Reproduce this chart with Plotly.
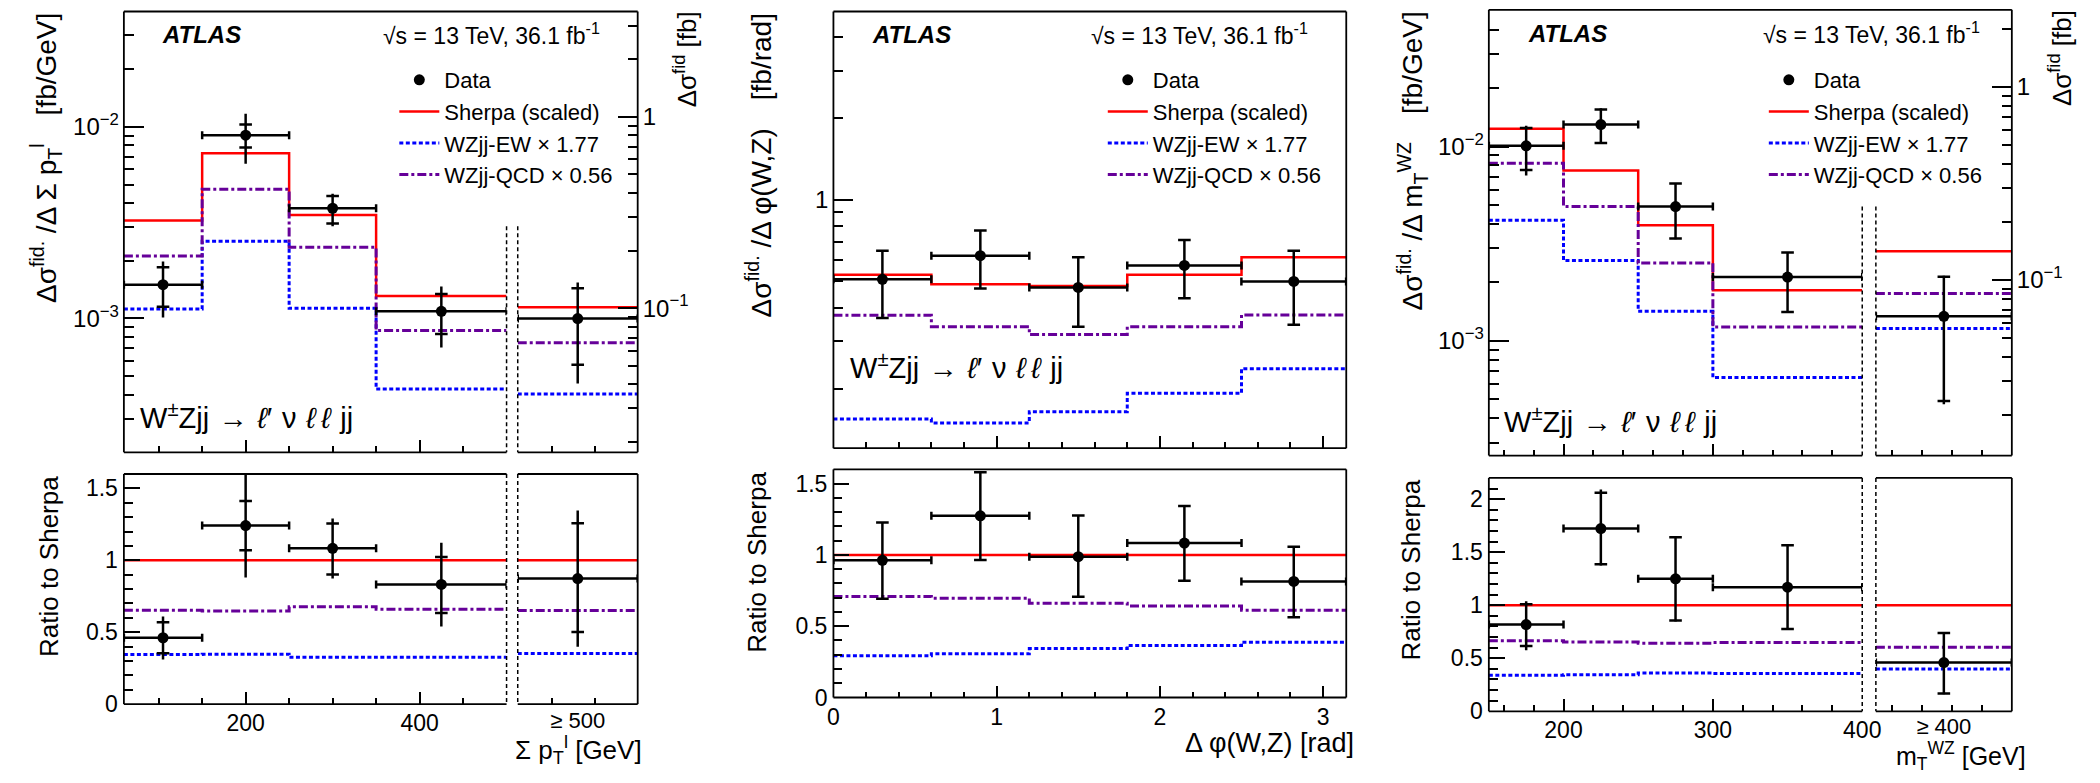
import numpy as np
import plotly.graph_objects as go

# ---------------- DATA ----------------
# Panel 1: sum pT of leptons [GeV]
pt_edges = [60, 150, 250, 350, 500]
pt_centers = [105, 200, 300, 425]
pt_data = [1.50e-3, 9.05e-3, 3.76e-3, 1.09e-3]
pt_up = [1.98e-3, 1.17e-2, 4.48e-3, 1.47e-3]
pt_dn = [1.01e-3, 6.42e-3, 3.03e-3, 7.06e-4]
pt_stat_up = [1.85e-3, 1.03e-2, 4.36e-3, 1.34e-3]
pt_stat_dn = [1.15e-3, 7.80e-3, 3.13e-3, 8.30e-4]
pt_sherpa = [3.25e-3, 7.29e-3, 3.47e-3, 1.31e-3]
pt_ew = [1.12e-3, 2.53e-3, 1.13e-3, 4.28e-4]
pt_qcd = [2.12e-3, 4.72e-3, 2.35e-3, 8.65e-4]
# overflow bin (>= 500 GeV), in fb
pt_ovf_edges = [461, 599]
pt_ovf_center = 530
pt_ovf_data = 0.0882
pt_ovf_up = 0.136
pt_ovf_dn = 0.0403
pt_ovf_stat_up = 0.127
pt_ovf_stat_dn = 0.0506
pt_ovf_sherpa = 0.101
pt_ovf_ew = 0.0356
pt_ovf_qcd = 0.0658

# Panel 2: delta phi(W,Z) [rad]
phi_edges = [0, 0.6, 1.2, 1.8, 2.5, np.pi]
phi_centers = [0.3, 0.9, 1.5, 2.15, 2.82]
phi_data = [0.509, 0.622, 0.475, 0.573, 0.500]
phi_up = [0.649, 0.771, 0.614, 0.711, 0.649]
phi_dn = [0.366, 0.471, 0.340, 0.433, 0.346]
phi_sherpa = [0.529, 0.488, 0.481, 0.529, 0.614]
phi_ew = [0.155, 0.150, 0.165, 0.193, 0.238]
phi_qcd = [0.375, 0.340, 0.318, 0.340, 0.376]

# Panel 3: mT(WZ) [GeV]
mt_edges = [150, 200, 250, 300, 400]
mt_centers = [175, 225, 275, 350]
mt_data = [1.008e-2, 1.297e-2, 4.91e-3, 2.13e-3]
mt_up = [1.28e-2, 1.575e-2, 6.45e-3, 2.85e-3]
mt_dn = [7.10e-3, 1.035e-2, 3.33e-3, 1.41e-3]
mt_stat_up = [1.245e-2, 1.551e-2, 6.45e-3, 2.85e-3]
mt_stat_dn = [7.58e-3, 1.043e-2, 3.36e-3, 1.41e-3]
mt_sherpa = [1.233e-2, 7.53e-3, 3.93e-3, 1.82e-3]
mt_ew = [4.18e-3, 2.59e-3, 1.42e-3, 6.48e-4]
mt_qcd = [8.20e-3, 4.91e-3, 2.52e-3, 1.18e-3]
mt_ovf_edges = [409, 500]
mt_ovf_center = 454.5
mt_ovf_data = 0.0648
mt_ovf_up = 0.105
mt_ovf_dn = 0.0227
mt_ovf_stat_up = 0.104
mt_ovf_stat_dn = 0.0236
mt_ovf_sherpa = 0.141
mt_ovf_ew = 0.0561
mt_ovf_qcd = 0.085

LEG_NAMES = ["Data", "Sherpa (scaled)", "WZjj-EW \u00d7 1.77", "WZjj-QCD \u00d7 0.56"]

# ---------------- STYLE / GEOMETRY ----------------
W, H = 2100, 783
FONT = "Liberation Sans"
RED = "#ff0000"
BLUE = "#0000ff"
PURPLE = "#660099"
EW_DASH = "4px,2.5px"
QCD_DASH = "9px,3px,3px,3px"


def px(x):
    return x / W


def py(y):
    return 1 - y / H


P1 = dict(L=119.3, M=506.6, O=517.9, R=639.3, TT=11.7, TB=460, RT=482, RB=716)
P2 = dict(L=837.4, R=1356.4, TT=11.7, TB=455.7, RT=477.3, RB=709.3)
P3 = dict(L=1500.7, M=1878.6, O=1892.4, R=2030, TT=10, TB=463.3, RT=486, RB=723.3)

fig = go.Figure()


def step(edges, vals):
    return list(edges), list(vals) + [vals[-1]]


def hist_traces(edges, sherpa, ew, qcd, xa, ya, legend=None):
    show = legend is not None
    x, y = step(edges, sherpa)
    fig.add_trace(go.Scatter(x=x, y=y, mode="lines", line=dict(color=RED, width=2.5, shape="hv"),
                             name=LEG_NAMES[1], legendrank=2, showlegend=show, legend=legend,
                             xaxis=xa, yaxis=ya))
    x, y = step(edges, ew)
    fig.add_trace(go.Scatter(x=x, y=y, mode="lines", line=dict(color=BLUE, width=3, shape="hv", dash=EW_DASH),
                             name=LEG_NAMES[2], legendrank=3, showlegend=show, legend=legend,
                             xaxis=xa, yaxis=ya))
    x, y = step(edges, qcd)
    fig.add_trace(go.Scatter(x=x, y=y, mode="lines", line=dict(color=PURPLE, width=3, shape="hv", dash=QCD_DASH),
                             name=LEG_NAMES[3], legendrank=4, showlegend=show, legend=legend,
                             xaxis=xa, yaxis=ya))


def data_traces(centers, halfw, data, up, dn, stup, stdn, xa, ya, legend=None):
    data = np.asarray(data, float)
    up = np.asarray(up, float)
    dn = np.asarray(dn, float)
    fig.add_trace(go.Scatter(x=list(centers) + list(centers), y=list(stup) + list(stdn), mode="markers",
                             marker=dict(symbol="line-ew", size=9, line=dict(width=2.5, color="black")),
                             showlegend=False, xaxis=xa, yaxis=ya, hoverinfo="skip"))
    fig.add_trace(go.Scatter(x=list(centers), y=list(data), mode="markers",
                             marker=dict(symbol="circle", size=11, color="black"),
                             error_y=dict(type="data", symmetric=False, array=list(up - data),
                                          arrayminus=list(data - dn), thickness=2.5, width=0, color="black"),
                             error_x=dict(type="data", array=list(halfw), thickness=2.5, width=4, color="black"),
                             name=LEG_NAMES[0], legendrank=1, showlegend=legend is not None, legend=legend,
                             xaxis=xa, yaxis=ya))


def halfwidths(edges):
    e = np.asarray(edges, float)
    return list((e[1:] - e[:-1]) / 2)


def ratio(a, b):
    return list(np.asarray(a, float) / np.asarray(b, float))


# ---------- Panel 1 ----------
hist_traces(pt_edges, pt_sherpa, pt_ew, pt_qcd, "x", "y", legend="legend")
data_traces(pt_centers, halfwidths(pt_edges), pt_data, pt_up, pt_dn, pt_stat_up, pt_stat_dn, "x", "y", legend="legend")
hist_traces(pt_ovf_edges, [pt_ovf_sherpa], [pt_ovf_ew], [pt_ovf_qcd], "x2", "y2")
data_traces([pt_ovf_center], halfwidths(pt_ovf_edges), [pt_ovf_data], [pt_ovf_up], [pt_ovf_dn],
            [pt_ovf_stat_up], [pt_ovf_stat_dn], "x2", "y2")
hist_traces(pt_edges, ratio(pt_sherpa, pt_sherpa), ratio(pt_ew, pt_sherpa), ratio(pt_qcd, pt_sherpa), "x3", "y3")
data_traces(pt_centers, halfwidths(pt_edges), ratio(pt_data, pt_sherpa), ratio(pt_up, pt_sherpa),
            ratio(pt_dn, pt_sherpa), ratio(pt_stat_up, pt_sherpa), ratio(pt_stat_dn, pt_sherpa), "x3", "y3")
hist_traces(pt_ovf_edges, [1.0], [pt_ovf_ew / pt_ovf_sherpa], [pt_ovf_qcd / pt_ovf_sherpa], "x4", "y4")
data_traces([pt_ovf_center], halfwidths(pt_ovf_edges), [pt_ovf_data / pt_ovf_sherpa], [pt_ovf_up / pt_ovf_sherpa],
            [pt_ovf_dn / pt_ovf_sherpa], [pt_ovf_stat_up / pt_ovf_sherpa], [pt_ovf_stat_dn / pt_ovf_sherpa], "x4", "y4")

# ---------- Panel 2 ----------
hist_traces(phi_edges, phi_sherpa, phi_ew, phi_qcd, "x5", "y5", legend="legend2")
data_traces(phi_centers, halfwidths(phi_edges), phi_data, phi_up, phi_dn, phi_up, phi_dn, "x5", "y5", legend="legend2")
hist_traces(phi_edges, ratio(phi_sherpa, phi_sherpa), ratio(phi_ew, phi_sherpa), ratio(phi_qcd, phi_sherpa), "x6", "y6")
data_traces(phi_centers, halfwidths(phi_edges), ratio(phi_data, phi_sherpa), ratio(phi_up, phi_sherpa),
            ratio(phi_dn, phi_sherpa), ratio(phi_up, phi_sherpa), ratio(phi_dn, phi_sherpa), "x6", "y6")

# ---------- Panel 3 ----------
hist_traces(mt_edges, mt_sherpa, mt_ew, mt_qcd, "x7", "y7", legend="legend3")
data_traces(mt_centers, halfwidths(mt_edges), mt_data, mt_up, mt_dn, mt_stat_up, mt_stat_dn, "x7", "y7", legend="legend3")
hist_traces(mt_ovf_edges, [mt_ovf_sherpa], [mt_ovf_ew], [mt_ovf_qcd], "x8", "y8")
data_traces([mt_ovf_center], halfwidths(mt_ovf_edges), [mt_ovf_data], [mt_ovf_up], [mt_ovf_dn],
            [mt_ovf_stat_up], [mt_ovf_stat_dn], "x8", "y8")
hist_traces(mt_edges, ratio(mt_sherpa, mt_sherpa), ratio(mt_ew, mt_sherpa), ratio(mt_qcd, mt_sherpa), "x9", "y9")
data_traces(mt_centers, halfwidths(mt_edges), ratio(mt_data, mt_sherpa), ratio(mt_up, mt_sherpa),
            ratio(mt_dn, mt_sherpa), ratio(mt_stat_up, mt_sherpa), ratio(mt_stat_dn, mt_sherpa), "x9", "y9")
hist_traces(mt_ovf_edges, [1.0], [mt_ovf_ew / mt_ovf_sherpa], [mt_ovf_qcd / mt_ovf_sherpa], "x10", "y10")
data_traces([mt_ovf_center], halfwidths(mt_ovf_edges), [mt_ovf_data / mt_ovf_sherpa], [mt_ovf_up / mt_ovf_sherpa],
            [mt_ovf_dn / mt_ovf_sherpa], [mt_ovf_stat_up / mt_ovf_sherpa], [mt_ovf_stat_dn / mt_ovf_sherpa], "x10", "y10")

# ---------------- AXES ----------------
TICKFONT = dict(family=FONT, size=23, color="black")
LOGFONT = dict(family=FONT, size=24, color="black")


def log_ticks(lo, hi):
    majors, minors = [], []
    for n in range(int(np.floor(lo)) - 1, int(np.ceil(hi)) + 1):
        for k in range(1, 10):
            v = k * 10.0 ** n
            if lo <= np.log10(v) <= hi:
                (majors if k == 1 else minors).append(v)
    return majors, minors


def pow_label(v):
    e = int(round(np.log10(v)))
    if e == 0:
        return "1"
    return "10<sup>\u2212%d</sup>" % (-e) if e < 0 else "10<sup>%d</sup>" % e


def base_axis(**kw):
    d = dict(showgrid=False, zeroline=False, showline=False, ticks="inside", tickcolor="black",
             tickwidth=1.5, tickfont=TICKFONT, fixedrange=True, tickangle=0)
    d.update(kw)
    return d


def logy(domain, rng, anchor, side="left", labels=True):
    maj, mino = log_ticks(rng[0], rng[1])
    return base_axis(type="log", domain=domain, range=rng, anchor=anchor, side=side,
                     tickmode="array", tickvals=maj, ticktext=[pow_label(v) for v in maj], ticklen=20,
                     showticklabels=labels, tickfont=LOGFONT, ticklabelstandoff=4,
                     minor=dict(tickmode="array", tickvals=mino, ticks="inside", ticklen=10,
                                tickcolor="black", tickwidth=1.5))


def lin_x(domain, rng, anchor, majors, minors, labels=None, major_len=12, standoff=3, font=None):
    kw = dict(domain=domain, range=rng, anchor=anchor, tickmode="array", tickvals=majors, ticklen=major_len,
              minor=dict(tickmode="array", tickvals=minors, ticks="inside", ticklen=6,
                         tickcolor="black", tickwidth=1.5))
    if labels is None:
        kw["showticklabels"] = False
    else:
        kw["ticktext"] = labels
        kw["ticklabelstandoff"] = standoff
    if font is not None:
        kw["tickfont"] = font
    return base_axis(**kw)


def ratio_y(domain, rng, anchor, majors, labels=True):
    mins = [round(v, 1) for v in np.arange(0, rng[1] + 1e-9, 0.1) if abs(v * 2 - round(v * 2)) > 1e-6]
    return base_axis(domain=domain, range=rng, anchor=anchor, tickmode="array", tickvals=majors,
                     ticktext=[("%g" % v) for v in majors], ticklen=16, showticklabels=labels,
                     ticklabelstandoff=5,
                     minor=dict(tickmode="array", tickvals=mins, ticks="inside", ticklen=9,
                                tickcolor="black", tickwidth=1.5))


layout = dict(width=W, height=H, margin=dict(l=0, r=0, t=0, b=0),
              paper_bgcolor="white", plot_bgcolor="rgba(0,0,0,0)",
              font=dict(family=FONT, color="black"))

OVF_FONT = dict(family=FONT, size=22, color="black")

# Panel 1 axes
top1 = [py(P1["TB"]), py(P1["TT"])]
rat1 = [py(P1["RB"]), py(P1["RT"])]
layout["xaxis"] = lin_x([px(P1["L"]), px(P1["M"])], [60, 500], "y", [200, 400], [100, 150, 250, 300, 350, 450])
layout["yaxis"] = logy(top1, [np.log10(2e-4), np.log10(0.04)], "x")
layout["xaxis2"] = lin_x([px(P1["O"]), px(P1["R"])], pt_ovf_edges, "y2", [], [500, 550])
layout["yaxis2"] = logy(top1, [np.log10(0.0176), np.log10(3.56)], "x2", side="right")
layout["xaxis3"] = lin_x([px(P1["L"]), px(P1["M"])], [60, 500], "y3", [200, 400], [100, 150, 250, 300, 350, 450],
                         labels=["200", "400"])
layout["yaxis3"] = ratio_y(rat1, [0, 1.6], "x3", [0, 0.5, 1, 1.5])
layout["xaxis4"] = lin_x([px(P1["O"]), px(P1["R"])], pt_ovf_edges, "y4", [pt_ovf_center], [500, 550],
                         labels=["\u2265 500"], major_len=0, standoff=1, font=OVF_FONT)
layout["yaxis4"] = base_axis(domain=rat1, range=[0, 1.6], anchor="x4", ticks="", showticklabels=False)

# Panel 2 axes
top2 = [py(P2["TB"]), py(P2["TT"])]
rat2 = [py(P2["RB"]), py(P2["RT"])]
phi_minor = [round(v, 1) for v in np.arange(0.2, 3.15, 0.2) if abs(v - round(v)) > 1e-6]
layout["xaxis5"] = lin_x([px(P2["L"]), px(P2["R"])], [0, np.pi], "y5", [0, 1, 2, 3], phi_minor)
layout["yaxis5"] = logy(top2, [np.log10(0.121), np.log10(4.97)], "x5")
layout["xaxis6"] = lin_x([px(P2["L"]), px(P2["R"])], [0, np.pi], "y6", [0, 1, 2, 3], phi_minor,
                         labels=["0", "1", "2", "3"])
layout["yaxis6"] = ratio_y(rat2, [0, 1.6], "x6", [0, 0.5, 1, 1.5])

# Panel 3 axes
top3 = [py(P3["TB"]), py(P3["TT"])]
rat3 = [py(P3["RB"]), py(P3["RT"])]
mt_minor = [160, 180, 220, 240, 260, 280, 320, 340, 360, 380]
layout["xaxis7"] = lin_x([px(P3["L"]), px(P3["M"])], [150, 400], "y7", [200, 300, 400], mt_minor)
layout["yaxis7"] = logy(top3, [np.log10(2.57e-4), np.log10(0.0505)], "x7")
layout["xaxis8"] = lin_x([px(P3["O"]), px(P3["R"])], mt_ovf_edges, "y8", [], [420, 440, 460, 480])
layout["yaxis8"] = logy(top3, [np.log10(0.0123), np.log10(2.51)], "x8", side="right")
layout["xaxis9"] = lin_x([px(P3["L"]), px(P3["M"])], [150, 400], "y9", [200, 300, 400], mt_minor,
                         labels=["200", "300", "400"])
layout["yaxis9"] = ratio_y(rat3, [0, 2.2], "x9", [0, 0.5, 1, 1.5, 2])
layout["xaxis10"] = lin_x([px(P3["O"]), px(P3["R"])], mt_ovf_edges, "y10", [mt_ovf_center], [420, 440, 460, 480],
                          labels=["\u2265 400"], major_len=0, standoff=0, font=OVF_FONT)
layout["yaxis10"] = base_axis(domain=rat3, range=[0, 2.2], anchor="x10", ticks="", showticklabels=False)


# Legends
def legend_at(x, y):
    return dict(x=px(x), y=py(y), xanchor="left", yanchor="top", bgcolor="rgba(0,0,0,0)",
                font=dict(family=FONT, size=22, color="black"), itemwidth=40, tracegroupgap=0,
                traceorder="normal")


layout["legend"] = legend_at(393, 60)
layout["legend2"] = legend_at(1110, 60)
layout["legend3"] = legend_at(1779, 60)

# ---------------- FRAMES ----------------
shapes = []


def seg(x0, y0, x1, y1, dash=None, width=1.8):
    line = dict(color="black", width=width)
    if dash:
        line["dash"] = dash
    shapes.append(dict(type="line", xref="paper", yref="paper", x0=px(x0), y0=py(y0), x1=px(x1), y1=py(y1),
                       line=line, layer="above"))


def split_frame(P, top, bot, dash_from, gapped_top):
    L, M, O, R = P["L"], P["M"], P["O"], P["R"]
    seg(L, top, L, bot)
    seg(R, top, R, bot)
    if gapped_top:
        seg(L, top, M, top)
        seg(O, top, R, top)
    else:
        seg(L, top, R, top)
    seg(L, bot, M, bot)
    seg(O, bot, R, bot)
    seg(M, dash_from, M, bot, dash="4px,3px", width=1.5)
    seg(O, dash_from, O, bot, dash="4px,3px", width=1.5)


split_frame(P1, P1["TT"], P1["TB"], 230, False)
split_frame(P1, P1["RT"], P1["RB"], P1["RT"], True)
split_frame(P3, P3["TT"], P3["TB"], 210, False)
split_frame(P3, P3["RT"], P3["RB"], P3["RT"], True)
for t, b in [(P2["TT"], P2["TB"]), (P2["RT"], P2["RB"])]:
    seg(P2["L"], t, P2["R"], t)
    seg(P2["L"], b, P2["R"], b)
    seg(P2["L"], t, P2["L"], b)
    seg(P2["R"], t, P2["R"], b)
layout["shapes"] = shapes

# ---------------- TEXT ----------------
ann = []


def text(x, y, s, size=23, xanchor="left", yanchor="middle", angle=0):
    ann.append(dict(xref="paper", yref="paper", x=px(x), y=py(y), text=s, showarrow=False,
                    xanchor=xanchor, yanchor=yanchor, textangle=angle,
                    font=dict(family=FONT, size=size, color="black")))


for xa, xs_end, y in [(156, 603, 35), (874, 1320, 35), (1538, 2000, 34)]:
    text(xa, y, "<b><i>ATLAS</i></b>", size=24)
    text(xs_end, y, "\u221as = 13 TeV, 36.1 fb<sup>-1</sup>", size=23, xanchor="right")

SP = "\u2004"
proc = ("W<sup>\u00b1</sup>Zjj" + SP + "\u2192" + SP + "<i>\u2113</i>\u2032" + SP + "\u03bd" + SP
        + "<i>\u2113</i>\u2009<i>\u2113</i>" + SP + "jj")
text(134, 423, proc, size=29)
text(852, 372, proc, size=29)
text(1514, 427, proc, size=29)

# y titles
GAP = "\u2002\u2002"
text(40, P1["TT"], "\u0394\u03c3<sup>fid.</sup> /\u0394 \u03a3 p<sub>T</sub><sup>l</sup>" + GAP + "[fb/GeV]", size=28,
     xanchor="center", yanchor="top", angle=-90)
text(762, P2["TT"], "\u0394\u03c3<sup>fid.</sup> /\u0394 \u03c6(W,Z)" + GAP + "[fb/rad]", size=28,
     xanchor="center", yanchor="top", angle=-90)
text(1424, P3["TT"], "\u0394\u03c3<sup>fid.</sup> /\u0394 m<sub>T</sub><sup>WZ</sup>" + GAP + "[fb/GeV]", size=28,
     xanchor="center", yanchor="top", angle=-90)
text(688, P1["TT"] - 2, "\u0394\u03c3<sup>fid</sup> [fb]", size=26, xanchor="center", yanchor="top", angle=-90)
text(2080, P3["TT"] - 2, "\u0394\u03c3<sup>fid</sup> [fb]", size=26, xanchor="center", yanchor="top", angle=-90)

for x, P in [(44, P1), (760, P2), (1422, P3)]:
    text(x, P["RT"], "Ratio to Sherpa", size=26, xanchor="center", yanchor="top", angle=-90)

# x titles
text(P1["R"] + 6, 783, "\u03a3 p<sub>T</sub><sup>l</sup> [GeV]", size=26, xanchor="right", yanchor="bottom")
text(P2["R"] + 10, 756, "\u0394 \u03c6(W,Z) [rad]", size=27, xanchor="right")
text(P3["R"] + 16, 789, "m<sub>T</sub><sup>WZ</sup> [GeV]", size=25, xanchor="right", yanchor="bottom")

layout["annotations"] = ann
fig.update_layout(**layout)
fig.write_html("out.html")
